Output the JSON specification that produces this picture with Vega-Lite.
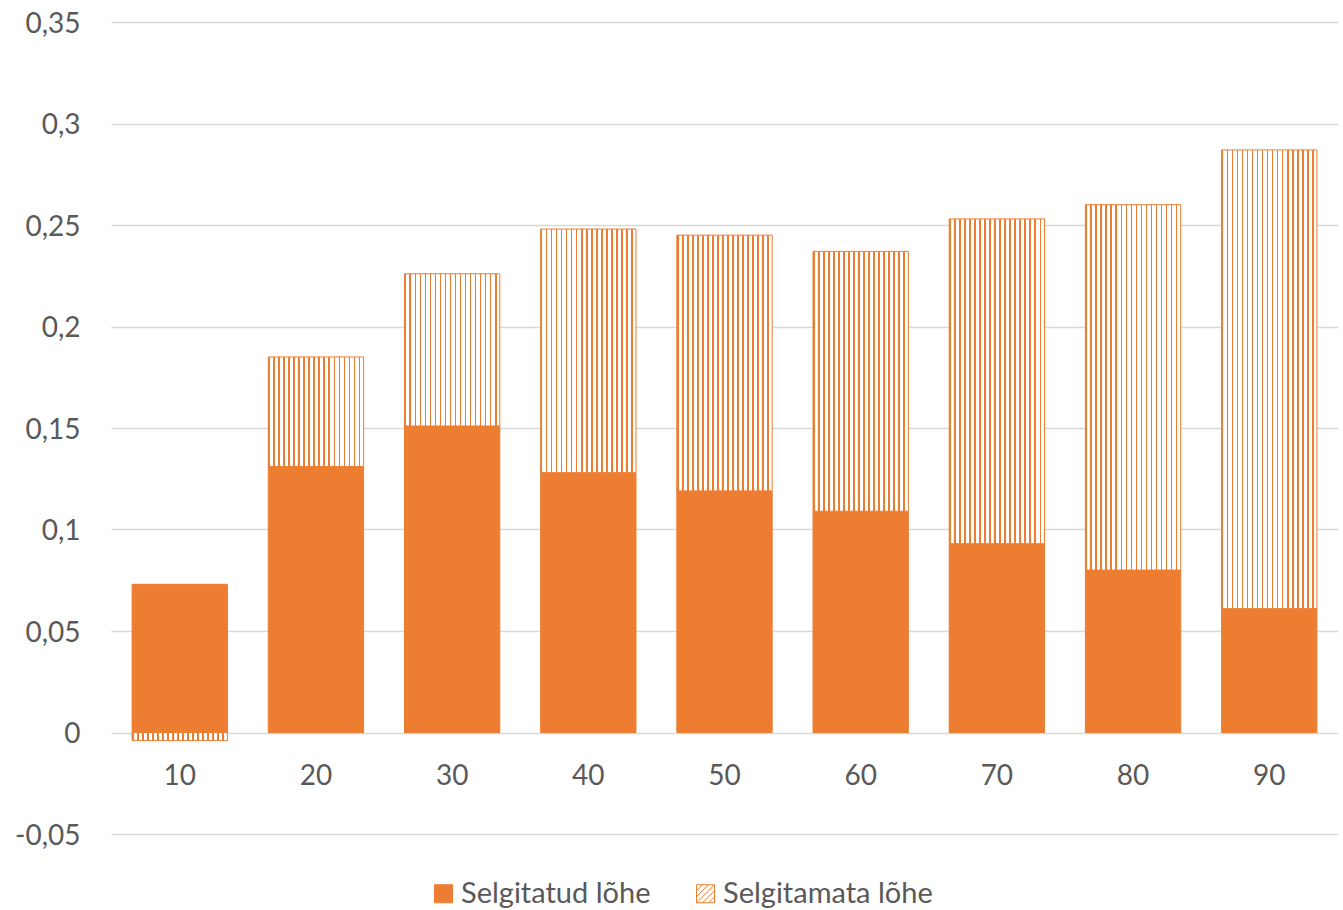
{
  "$schema": "https://vega.github.io/schema/vega-lite/v6.json",
  "width": 1227,
  "height": 812,
  "autosize": {"type": "none"},
  "padding": {"left": 111, "top": 22, "right": 5, "bottom": 76},
  "background": "#FFFFFF",
  "data": {
    "values": [
      {"detsiil": 10, "osa": "Selgitatud lõhe", "lohe": 0.073},
      {"detsiil": 10, "osa": "Selgitamata lõhe", "lohe": -0.004},
      {"detsiil": 20, "osa": "Selgitatud lõhe", "lohe": 0.131},
      {"detsiil": 20, "osa": "Selgitamata lõhe", "lohe": 0.054},
      {"detsiil": 30, "osa": "Selgitatud lõhe", "lohe": 0.151},
      {"detsiil": 30, "osa": "Selgitamata lõhe", "lohe": 0.075},
      {"detsiil": 40, "osa": "Selgitatud lõhe", "lohe": 0.128},
      {"detsiil": 40, "osa": "Selgitamata lõhe", "lohe": 0.120},
      {"detsiil": 50, "osa": "Selgitatud lõhe", "lohe": 0.119},
      {"detsiil": 50, "osa": "Selgitamata lõhe", "lohe": 0.126},
      {"detsiil": 60, "osa": "Selgitatud lõhe", "lohe": 0.109},
      {"detsiil": 60, "osa": "Selgitamata lõhe", "lohe": 0.128},
      {"detsiil": 70, "osa": "Selgitatud lõhe", "lohe": 0.093},
      {"detsiil": 70, "osa": "Selgitamata lõhe", "lohe": 0.160},
      {"detsiil": 80, "osa": "Selgitatud lõhe", "lohe": 0.080},
      {"detsiil": 80, "osa": "Selgitamata lõhe", "lohe": 0.180},
      {"detsiil": 90, "osa": "Selgitatud lõhe", "lohe": 0.061},
      {"detsiil": 90, "osa": "Selgitamata lõhe", "lohe": 0.226}
    ]
  },
  "mark": {"type": "bar", "stroke": "#ED7D31", "strokeWidth": 1},
  "encoding": {
    "x": {
      "field": "detsiil",
      "type": "ordinal",
      "scale": {"paddingInner": 0.3, "paddingOuter": 0.155},
      "axis": {
        "title": null,
        "orient": "bottom",
        "offset": -101.5,
        "domain": false,
        "ticks": false,
        "grid": false,
        "labelAngle": 0,
        "labelPadding": 30,
        "labelFont": "Lato",
        "labelFontSize": 28,
        "labelColor": "#595959"
      }
    },
    "y": {
      "field": "lohe",
      "type": "quantitative",
      "stack": "zero",
      "scale": {"domain": [-0.05, 0.35], "nice": false, "zero": false},
      "axis": {
        "title": null,
        "values": [-0.05, 0, 0.05, 0.1, 0.15, 0.2, 0.25, 0.3, 0.35],
        "labelExpr": "replace(toString(datum.value), '.', ',')",
        "domain": false,
        "ticks": false,
        "grid": true,
        "gridColor": "#D9D9D9",
        "gridWidth": 1.5,
        "labelPadding": 31,
        "labelOffset": 2,
        "labelFont": "Lato",
        "labelFontSize": 28,
        "labelColor": "#595959"
      }
    },
    "fill": {
      "condition": {
        "test": "datum.osa === 'Selgitamata lõhe'",
        "value": {
          "gradient": "linear",
          "x1": 0, "y1": 0, "x2": 1, "y2": 0,
          "stops": [
            {"offset": 0, "color": "#ED7D31"}, {"offset": 0.018, "color": "#ED7D31"},
            {"offset": 0.018, "color": "#FFFFFF"}, {"offset": 0.0526, "color": "#FFFFFF"},
            {"offset": 0.0526, "color": "#ED7D31"}, {"offset": 0.0706, "color": "#ED7D31"},
            {"offset": 0.0706, "color": "#FFFFFF"}, {"offset": 0.1053, "color": "#FFFFFF"},
            {"offset": 0.1053, "color": "#ED7D31"}, {"offset": 0.1233, "color": "#ED7D31"},
            {"offset": 0.1233, "color": "#FFFFFF"}, {"offset": 0.1579, "color": "#FFFFFF"},
            {"offset": 0.1579, "color": "#ED7D31"}, {"offset": 0.1759, "color": "#ED7D31"},
            {"offset": 0.1759, "color": "#FFFFFF"}, {"offset": 0.2105, "color": "#FFFFFF"},
            {"offset": 0.2105, "color": "#ED7D31"}, {"offset": 0.2285, "color": "#ED7D31"},
            {"offset": 0.2285, "color": "#FFFFFF"}, {"offset": 0.2632, "color": "#FFFFFF"},
            {"offset": 0.2632, "color": "#ED7D31"}, {"offset": 0.2812, "color": "#ED7D31"},
            {"offset": 0.2812, "color": "#FFFFFF"}, {"offset": 0.3158, "color": "#FFFFFF"},
            {"offset": 0.3158, "color": "#ED7D31"}, {"offset": 0.3338, "color": "#ED7D31"},
            {"offset": 0.3338, "color": "#FFFFFF"}, {"offset": 0.3684, "color": "#FFFFFF"},
            {"offset": 0.3684, "color": "#ED7D31"}, {"offset": 0.3864, "color": "#ED7D31"},
            {"offset": 0.3864, "color": "#FFFFFF"}, {"offset": 0.4211, "color": "#FFFFFF"},
            {"offset": 0.4211, "color": "#ED7D31"}, {"offset": 0.4391, "color": "#ED7D31"},
            {"offset": 0.4391, "color": "#FFFFFF"}, {"offset": 0.4737, "color": "#FFFFFF"},
            {"offset": 0.4737, "color": "#ED7D31"}, {"offset": 0.4917, "color": "#ED7D31"},
            {"offset": 0.4917, "color": "#FFFFFF"}, {"offset": 0.5263, "color": "#FFFFFF"},
            {"offset": 0.5263, "color": "#ED7D31"}, {"offset": 0.5443, "color": "#ED7D31"},
            {"offset": 0.5443, "color": "#FFFFFF"}, {"offset": 0.5789, "color": "#FFFFFF"},
            {"offset": 0.5789, "color": "#ED7D31"}, {"offset": 0.5969, "color": "#ED7D31"},
            {"offset": 0.5969, "color": "#FFFFFF"}, {"offset": 0.6316, "color": "#FFFFFF"},
            {"offset": 0.6316, "color": "#ED7D31"}, {"offset": 0.6496, "color": "#ED7D31"},
            {"offset": 0.6496, "color": "#FFFFFF"}, {"offset": 0.6842, "color": "#FFFFFF"},
            {"offset": 0.6842, "color": "#ED7D31"}, {"offset": 0.7022, "color": "#ED7D31"},
            {"offset": 0.7022, "color": "#FFFFFF"}, {"offset": 0.7368, "color": "#FFFFFF"},
            {"offset": 0.7368, "color": "#ED7D31"}, {"offset": 0.7548, "color": "#ED7D31"},
            {"offset": 0.7548, "color": "#FFFFFF"}, {"offset": 0.7895, "color": "#FFFFFF"},
            {"offset": 0.7895, "color": "#ED7D31"}, {"offset": 0.8075, "color": "#ED7D31"},
            {"offset": 0.8075, "color": "#FFFFFF"}, {"offset": 0.8421, "color": "#FFFFFF"},
            {"offset": 0.8421, "color": "#ED7D31"}, {"offset": 0.8601, "color": "#ED7D31"},
            {"offset": 0.8601, "color": "#FFFFFF"}, {"offset": 0.8947, "color": "#FFFFFF"},
            {"offset": 0.8947, "color": "#ED7D31"}, {"offset": 0.9127, "color": "#ED7D31"},
            {"offset": 0.9127, "color": "#FFFFFF"}, {"offset": 0.9474, "color": "#FFFFFF"},
            {"offset": 0.9474, "color": "#ED7D31"}, {"offset": 0.9654, "color": "#ED7D31"},
            {"offset": 0.9654, "color": "#FFFFFF"}, {"offset": 1, "color": "#FFFFFF"}
          ]
        }
      },
      "field": "osa",
      "type": "nominal",
      "scale": {
        "domain": ["Selgitatud lõhe", "Selgitamata lõhe"],
        "range": ["#ED7D31", "#FFFFFF"]
      },
      "legend": {
        "title": null,
        "orient": "none",
        "direction": "horizontal",
        "legendX": 318,
        "legendY": 857,
        "padding": 0,
        "symbolType": "square",
        "symbolSize": 324,
        "symbolStrokeColor": "#ED7D31",
        "symbolStrokeWidth": 1,
        "symbolOpacity": 1,
        "labelOffset": 3,
        "columnPadding": 40,
        "labelFont": "Lato",
        "labelFontSize": 29,
        "labelColor": "#595959",
        "labelLimit": 400,
        "encode": {
          "symbols": {
            "update": {
              "stroke": {"value": "#ED7D31"},
              "strokeWidth": {"value": 1},
              "shape": [
                {
                  "test": "datum.value === 'Selgitamata lõhe'",
                  "value": "M-1,-1H1V1H-1Z M-1,-0.33L-0.33,-1 M-1,0.33L0.33,-1 M-1,1L1,-1 M-0.33,1L1,-0.33 M0.33,1L1,0.33"
                },
                {"value": "square"}
              ]
            }
          }
        }
      }
    },
    "order": {"field": "osa", "sort": "descending"}
  },
  "config": {
    "view": {"stroke": null},
    "bar": {"opacity": 1}
  }
}
